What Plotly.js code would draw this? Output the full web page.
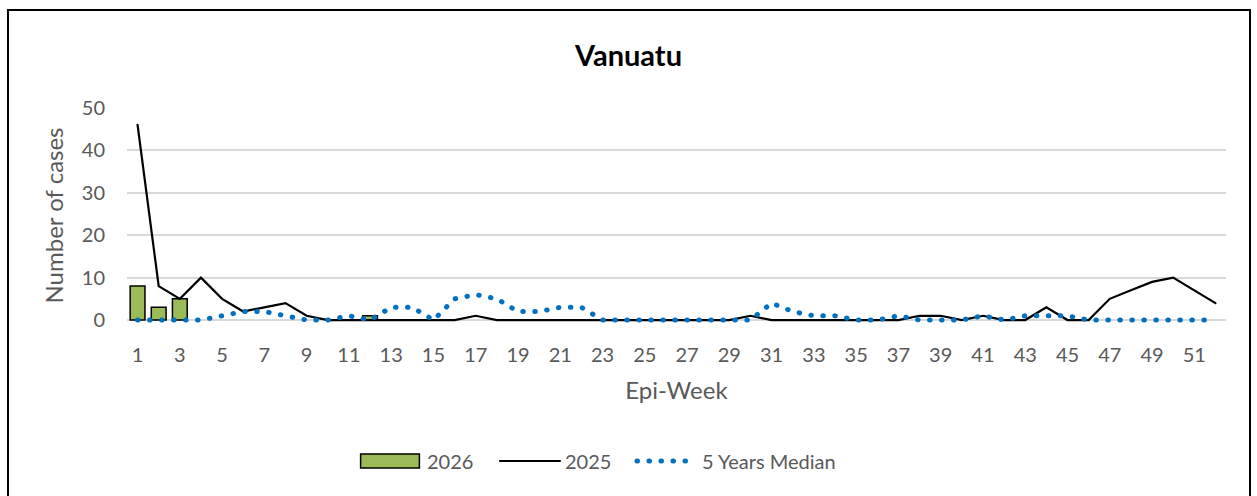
<!DOCTYPE html>
<html>
<head>
<meta charset="utf-8">
<script src="https://cdn.plot.ly/plotly-3.0.1.min.js"></script>
<style>
  html, body { margin: 0; padding: 0; background: #ffffff; overflow: hidden; }
  #chart { position: absolute; left: 0; top: 0; width: 1257px; height: 496px; }
  #frame { position: absolute; left: 7px; top: 9px; width: 1244px; height: 520px;
           border: 2px solid #000; pointer-events: none; box-sizing: border-box; }
  .scatterlayer .js-line, .legendlines path { stroke-linecap: round !important; }
  g.legendpoints path { transform: translate(33px, 0px) scale(4.9, 1.15) !important;
                        vector-effect: non-scaling-stroke; }
</style>
</head>
<body>
<div id="chart"></div>
<div id="frame"></div>
<script>
// ---- data ----
const weeks = [1,2,3,4,5,6,7,8,9,10,11,12,13,14,15,16,17,18,19,20,21,22,23,24,25,26,
               27,28,29,30,31,32,33,34,35,36,37,38,39,40,41,42,43,44,45,46,47,48,49,50,51,52];

const cases2026 = [8,3,5,null,null,null,null,null,null,null,null,1,
                   null,null,null,null,null,null,null,null,null,null,null,null,null,null,
                   null,null,null,null,null,null,null,null,null,null,null,null,null,null,
                   null,null,null,null,null,null,null,null,null,null,null,null];

const cases2025 = [46,8,5,10,5,2,3,4,1,0,0,0,0,0,0,0,1,0,0,0,0,0,0,0,0,0,
                   0,0,0,1,0,0,0,0,0,0,0,1,1,0,1,0,0,3,0,0,5,7,9,10,7,4];

const median5y = [0,0,0,0,1,2,2,1,0,0,1,0,3,3,0,5,6,5,2,2,3,3,0,0,0,0,
                  0,0,0,0,4,2,1,1,0,0,1,0,0,0,1,0,1,1,1,0,0,0,0,0,0,0];

const xTickVals = [1,3,5,7,9,11,13,15,17,19,21,23,25,27,29,31,33,35,37,39,41,43,45,47,49,51];
const xTickText = xTickVals.map(String);
const yTickVals = [0,10,20,30,40,50];

const seriesNames = ["2026", "2025", "5 Years Median"];
const chartTitle = "Vanuatu";
const xTitle = "Epi-Week";
const yTitle = "Number of cases";

// ---- chart ----
const FONT = "Lato, Carlito, Calibri, 'Open Sans', sans-serif";
const GREY = "#595959";

const traces = [
  {
    type: "bar", name: seriesNames[0], x: weeks, y: cases2026, width: 0.7,
    marker: { color: "#9bbb59", line: { color: "#000000", width: 1.5 } },
    hoverinfo: "x+y", legend: "legend"
  },
  {
    type: "scatter", mode: "lines", name: seriesNames[1], x: weeks, y: cases2025,
    line: { color: "#000000", width: 2.2 }, legend: "legend2"
  },
  {
    type: "scatter", mode: "lines", name: seriesNames[2], x: weeks, y: median5y,
    line: { color: "#0070c0", width: 5, dash: "0.5px,11.5px" }, legend: "legend3"
  }
];

// small extra room below zero so the round dots at 0 are not clipped
const yLow = -0.7;
const pxPerUnit = 212 / 50;

function legendAt(leftPx) {
  return {
    orientation: "h", xref: "container", x: leftPx / 1257, xanchor: "left",
    yref: "container", y: 1 - 461 / 496, yanchor: "middle",
    font: { family: FONT, size: 20, color: GREY },
    itemwidth: 60, bgcolor: "rgba(0,0,0,0)"
  };
}

const layout = {
  width: 1257, height: 496,
  paper_bgcolor: "#ffffff", plot_bgcolor: "#ffffff",
  margin: { l: 127, r: 31, t: 108, b: 176 + yLow * pxPerUnit, pad: 0 },
  font: { family: FONT, color: GREY, size: 20 },
  title: {
    text: chartTitle, xref: "container", x: 0.5, xanchor: "center",
    yref: "container", y: 1 - 56 / 496, yanchor: "middle",
    font: { family: FONT, size: 29, color: "#000000", weight: "bold" }
  },
  bargap: 0.3,
  showlegend: true,
  legend: legendAt(357),
  legend2: legendAt(495),
  legend3: legendAt(632),
  xaxis: {
    type: "linear", range: [0.5, 52.5], automargin: false,
    tickmode: "array", tickvals: xTickVals, ticktext: xTickText,
    ticks: "", showgrid: false, zeroline: false, showline: false,
    tickfont: { family: FONT, size: 20, color: GREY },
    ticklabelstandoff: 18,
    title: { text: xTitle, standoff: 17, font: { family: FONT, size: 24, color: GREY } }
  },
  yaxis: {
    range: [yLow, 50], automargin: false,
    tickmode: "array", tickvals: yTickVals,
    ticks: "", showgrid: true, gridcolor: "#d9d9d9", gridwidth: 1.5,
    zeroline: true, zerolinecolor: "#d9d9d9", zerolinewidth: 1.5, showline: false,
    tickfont: { family: FONT, size: 20, color: GREY },
    ticklabelstandoff: 21,
    title: { text: yTitle, standoff: 11, font: { family: FONT, size: 24, color: GREY } }
  }
};

Plotly.newPlot("chart", traces, layout, { displayModeBar: false, responsive: false });
</script>
</body>
</html>
